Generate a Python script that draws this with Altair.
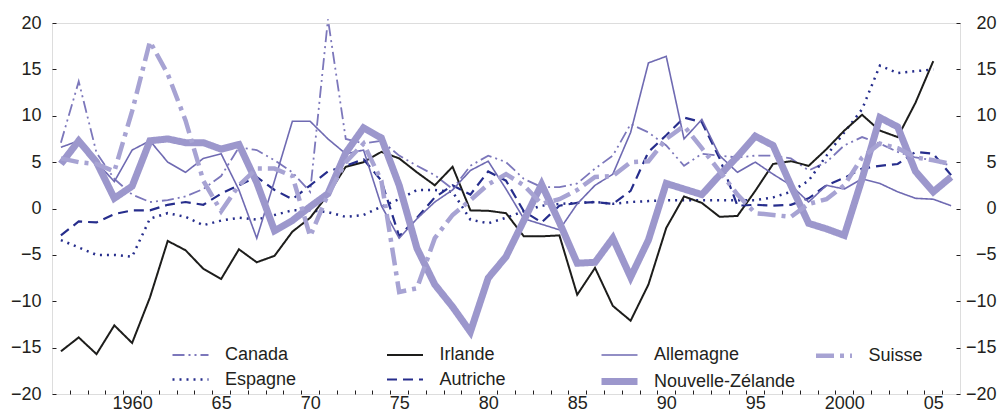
import altair as alt
import pandas as pd

years = list(range(1956, 2007))

canada = [7.1, 13.7, 6.0, 3.2, 1.5, 0.7, 0.9, 1.3, 2.1, 3.5,
          6.6, 6.3, 5.2, 3.9, 1.8, 20.4, 7.5, 7.0, 7.3, 5.7,
          4.6, 3.6, 2.1, 4.6, 5.7, 5.0, 3.2, 2.3, 2.3, 2.7,
          4.3, 5.7, 9.1, 8.2, 6.8, 4.6, 5.9, 5.7, 5.5, 5.7,
          5.7, 5.4, 4.1, 5.0, 6.8, 7.7, 7.0, 6.1, 5.5, 5.2, 4.6]
irlande = [-15.4, -13.9, -15.7, -12.6, -14.5, -9.6, -3.5, -4.5, -6.5, -7.6,
           -4.4, -5.8, -5.1, -2.5, -1.0, 1.5, 4.5, 5.0, 6.1, 5.4,
           3.9, 2.5, 4.5, -0.2, -0.25, -0.5, -3.0, -3.0, -2.9, -9.3,
           -6.4, -10.5, -12.1, -8.2, -2.1, 1.3, 0.6, -0.9, -0.8, 1.9,
           4.8, 5.1, 4.6, 6.4, 8.4, 10.1, 8.4, 7.7, 11.4, 15.9, None]
allemagne = [6.6, 7.3, 5.0, 2.9, 6.3, 7.3, 5.0, 3.9, 5.4, 5.9,
             2.0, -3.2, 3.0, 9.4, 9.4, 7.5, 5.9, 6.3, 0.3, -3.2,
             -1.1, 0.7, 2.0, 4.1, 5.1, 2.1, -1.1, -1.7, -2.3, 0.5,
             2.5, 3.7, 8.2, 15.7, 16.4, 7.5, 9.6, 5.7, 3.9, 5.0,
             3.7, 2.5, 0.7, 2.5, 2.1, 3.2, 2.7, 1.8, 1.1, 1.0, 0.3]
suisse = [5.4, 5.0, 4.8, 4.0, 10.5, 18.0, 14.5, 9.5, 3.0, -0.3,
          2.5, 4.3, 4.3, 3.5, -3.0, 1.5, 5.0, 7.0, 3.0, -9.0,
          -8.6, -3.2, -0.7, 0.9, 2.6, 3.7, 2.5, 0.5, 1.0, 2.0,
          3.4, 3.5, 5.0, 5.1, 7.5, 8.9, 6.5, 4.0, 1.5, -0.5,
          -0.7, -0.9, 0.5, 1.0, 2.5, 5.5, 7.0, 6.5, 5.5, 5.2, 4.8]
espagne = [-3.4, -4.2, -5.0, -5.0, -5.2, -1.1, -0.5, -0.9, -1.8, -1.3,
           -1.0, -1.2, -0.7, -0.2, -0.2, -0.4, -0.9, -0.7, 0.2, 1.0,
           2.0, 2.0, 1.8, -1.2, -1.6, -1.0, -0.3, 0.3, 0.5, 0.6,
           0.7, 0.5, 0.7, 0.8, 0.9, 0.9, 0.9, 0.9, 0.9, 0.9,
           1.2, 1.8, 3.0, 5.7, 8.2, 10.7, 15.4, 14.6, 14.8, 15.0, None]
autriche = [-2.9, -1.4, -1.5, -0.6, -0.2, -0.2, 0.4, 0.7, 0.4, 1.6,
            2.5, 3.4, 2.0, 1.0, 2.5, 4.0, 4.6, 5.3, 3.0, -3.0,
            -1.0, 1.2, 2.5, 1.5, 4.0, 3.0, -0.3, -1.5, 0.3, 0.6,
            0.7, 0.5, 1.9, 6.1, 7.9, 9.8, 9.3, 5.4, 0.3, 0.4,
            0.3, 0.4, 1.1, 2.5, 3.3, 4.3, 4.6, 4.8, 6.1, 5.9, 3.6]
nz = [4.8, 7.3, 5.0, 1.1, 2.4, 7.3, 7.5, 7.1, 7.1, 6.4,
      6.9, 2.8, -2.4, -1.3, 0.2, 1.6, 6.0, 8.7, 7.6, 2.5,
      -4.3, -8.2, -10.6, -13.3, -7.5, -5.2, -1.3, 2.6, -1.5, -5.9,
      -5.8, -3.2, -7.4, -3.4, 2.7, 2.1, 1.5, 3.6, 5.6, 7.8,
      6.8, 2.5, -1.6, -2.2, -2.9, 3.2, 9.8, 8.8, 4.0, 1.8, 3.4]

# legend order (column-major fill: Canada/Espagne, Irlande/Autriche, Allemagne/NZ, Suisse)
series = {
    "Canada": canada,
    "Espagne": espagne,
    "Irlande": irlande,
    "Autriche": autriche,
    "Allemagne": allemagne,
    "Nouvelle-Zélande": nz,
    "Suisse": suisse,
}
names = list(series.keys())
colors = ["#7c77bb", "#262d8c", "#1d1d1b", "#262d8c", "#6f6ab2", "#9c97cc", "#a7a3d3"]
dashes = [[12, 4, 2, 4, 2, 4], [2, 5], [1, 0], [10, 6], [1, 0], [1, 0], [18, 6, 4, 6]]
widths = [1.8, 2.5, 2.0, 2.2, 1.6, 7.0, 4.5]

rows = []
for name, vals in series.items():
    for y, v in zip(years, vals):
        if v is not None:
            rows.append({"annee": y, "pays": name, "valeur": v})
df = pd.DataFrame(rows)

FONT = "Liberation Sans"
TXT = "#231f20"
xdom = [1955.5, 2006.5]
ydom = [-20, 20]
half_ticks = [y + 0.5 for y in range(1956, 2006)]
label_years = list(range(1960, 2006, 5))

legend = alt.Legend(
    orient="none", legendX=126, legendY=318, columns=4, title=None,
    symbolType="M-2,0H2", symbolSize=324, labelFontSize=18, labelFont=FONT,
    labelColor=TXT, gridAlign="all", columnPadding=5.5, rowPadding=-1,
    labelOffset=22, padding=0,
)

lines = alt.Chart(df).mark_line(strokeJoin="miter", strokeCap="butt").encode(
    x=alt.X("annee:Q", scale=alt.Scale(domain=xdom, nice=False, zero=False),
            axis=alt.Axis(orient="bottom", values=half_ticks, labels=False, domain=False,
                          grid=False, tickSize=4, offset=-4, tickColor=TXT, title=None)),
    y=alt.Y("valeur:Q", scale=alt.Scale(domain=ydom, nice=False, zero=False),
            axis=alt.Axis(orient="left", values=list(range(-20, 21, 5)), domain=False, grid=False,
                          tickSize=4, offset=-4, tickColor=TXT, labelPadding=11,
                          labelFont=FONT, labelFontSize=18, labelColor=TXT,
                          labelOverlap=False, title=None)),
    color=alt.Color("pays:N", scale=alt.Scale(domain=names, range=colors), legend=legend),
    strokeDash=alt.StrokeDash("pays:N", scale=alt.Scale(domain=names, range=dashes), legend=legend),
    strokeWidth=alt.StrokeWidth("pays:N", scale=alt.Scale(type="ordinal", domain=names, range=widths),
                                legend=legend),
    detail="pays:N",
)

labels_layer = alt.Chart(df).mark_line(strokeOpacity=0).encode(
    x=alt.X("annee:Q", scale=alt.Scale(domain=xdom, nice=False, zero=False),
            axis=alt.Axis(orient="bottom", values=label_years, ticks=False, tickSize=0, domain=False,
                          grid=False, labelPadding=0, labelFont=FONT, labelFontSize=18,
                          labelColor=TXT, labelFlush=False, labelOverlap=False, title=None,
                          labelExpr="(datum.value == 1960 || datum.value == 2000) ? toString(datum.value) : substring(toString(datum.value), 2, 4)")),
    y=alt.Y("valeur:Q", scale=alt.Scale(domain=ydom, nice=False, zero=False),
            axis=alt.Axis(orient="right", values=list(range(-20, 21, 5)), domain=False, grid=False,
                          tickSize=4, offset=-4, tickColor=TXT, labelPadding=36, labelAlign="right",
                          labelFont=FONT, labelFontSize=18, labelColor=TXT,
                          labelOverlap=False, title=None)),
    detail="pays:N",
)

chart = alt.layer(lines, labels_layer).resolve_scale(
    x="independent", y="independent"
).resolve_axis(x="independent", y="independent").properties(
    width=908, height=371,
    autosize=alt.AutoSizeParams(type="none"),
    padding={"left": 44, "top": 15, "right": 37, "bottom": 17},
).configure_view(stroke=TXT, strokeWidth=1).configure(background="white")

chart.save("out.html", embed_options={"renderer": "svg", "actions": False})
